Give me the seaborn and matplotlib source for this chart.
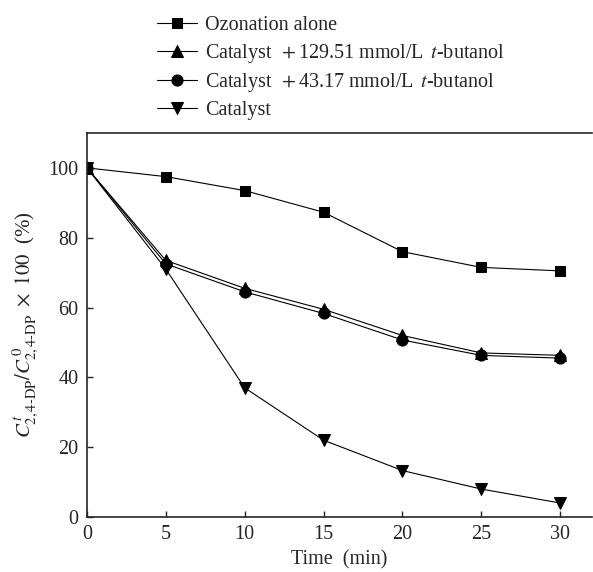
import numpy as np
import pandas as pd
import matplotlib
matplotlib.use('Agg')
import matplotlib.pyplot as plt
import seaborn as sns

# data
time_min = [0, 5, 10, 15, 20, 25, 30]
ozonation = [100, 97.5, 93.5, 87.3, 76.0, 71.5, 70.5]
tbu_129 = [100, 73.5, 65.5, 59.5, 52.0, 47.0, 46.3]
tbu_43 = [100, 72.5, 64.5, 58.3, 50.7, 46.3, 45.5]
catalyst = [100, 71.0, 37.0, 22.0, 13.3, 8.0, 4.0]

labels = ['Ozonation alone',
          r'Catalyst $\,+$129.51 mmol/L $\,t$-butanol',
          r'Catalyst $\,+$43.17 mmol/L $\,t$-butanol',
          'Catalyst']
markers = ['s', '^', 'o', 'v']

frames = []
for lab, vals in zip(labels, [ozonation, tbu_129, tbu_43, catalyst]):
    frames.append(pd.DataFrame({'time': time_min, 'value': vals, 'series': lab}))
df = pd.concat(frames, ignore_index=True)

sns.set_style('ticks')
plt.rcParams['font.family'] = ['Liberation Serif', 'DejaVu Serif']
plt.rcParams['mathtext.fontset'] = 'stix'
plt.rcParams['xtick.direction'] = 'in'
plt.rcParams['ytick.direction'] = 'in'

fig = plt.figure(figsize=(5.93, 5.72), dpi=100)
ax = fig.add_axes([0.1467, 0.0962, 0.851, 0.6713])

msizes = {'s': 7.5, '^': 8.5, 'o': 8, 'v': 8.5}
for lab, mk in zip(labels, markers):
    sub = df[df.series == lab]
    sns.lineplot(data=sub, x='time', y='value', ax=ax, color='black', lw=0.8,
                 marker=mk, markersize=msizes[mk], markeredgecolor='black',
                 label=lab, legend=False)

ax.set_xlim(0, 32)
ax.set_ylim(0, 110)
ax.set_xticks(time_min)
ax.set_yticks([0, 20, 40, 60, 80, 100])
ax.tick_params(labelsize=14.5, length=4, width=1, pad=6)
for s in ax.spines.values():
    s.set_linewidth(1.2)
ax.spines['right'].set_visible(False)
ax.set_xlabel('Time  (min)', fontsize=14.5)
ax.set_ylabel(r'$C^{\,t}_{\mathrm{2,4\text{-}DP}}/C^{\,0}_{\mathrm{2,4\text{-}DP}}\ \times\ 100$  (%)',
              fontsize=15, labelpad=6)

handles, labs = ax.get_legend_handles_labels()
fig.legend(handles, labs, loc='upper left', bbox_to_anchor=(0.251, 0.986),
           frameon=False, fontsize=14.5, handlelength=2.0, handletextpad=0.4,
           labelspacing=0.32, borderaxespad=0)

fig.savefig('out.png', dpi=100)
